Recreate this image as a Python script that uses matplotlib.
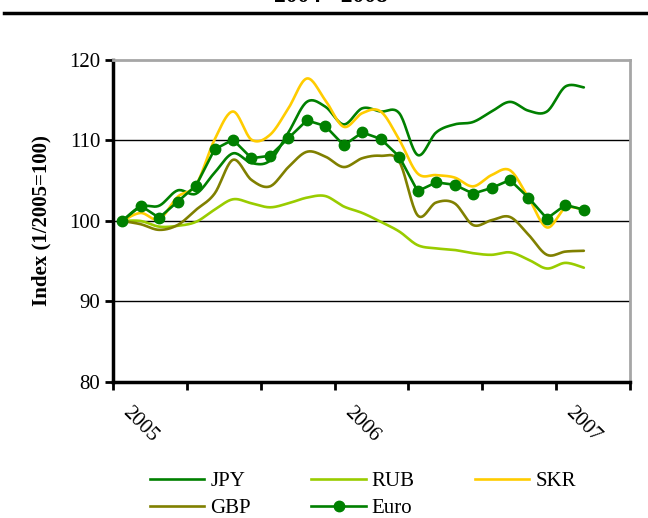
import numpy as np
import matplotlib
matplotlib.use("Agg")
import matplotlib.pyplot as plt
from matplotlib.lines import Line2D
import matplotlib.transforms as mtransforms

plt.rcParams['font.family'] = ['Liberation Serif', 'DejaVu Serif']

# ---- data (monthly, Jan 2005 .. Feb 2007) ----
months = list(range(26))
jpy = [100.0, 101.8, 101.9, 103.8, 103.4, 106.0, 108.4, 107.2, 107.5, 111.0,
       114.8, 114.2, 112.0, 114.0, 113.6, 113.4, 108.2, 111.0, 112.0, 112.3,
       113.6, 114.8, 113.7, 113.6, 116.7, 116.6]
rub = [100.0, 100.0, 99.3, 99.4, 99.9, 101.4, 102.7, 102.2, 101.7, 102.2,
       102.9, 103.1, 101.8, 101.0, 99.9, 98.7, 97.0, 96.6, 96.4, 96.0,
       95.8, 96.1, 95.2, 94.1, 94.8, 94.2]
skr = [100.0, 101.0, 100.2, 103.0, 104.5, 110.1, 113.6, 110.1, 110.7, 114.0,
       117.7, 115.0, 111.7, 113.4, 113.6, 110.1, 105.9, 105.7, 105.4, 104.3,
       105.7, 106.3, 102.9, 99.2, 101.6, 101.4]
gbp = [100.0, 99.6, 98.9, 99.5, 101.4, 103.4, 107.6, 105.1, 104.3, 106.7,
       108.6, 108.0, 106.7, 107.8, 108.1, 107.4, 100.7, 102.3, 102.2, 99.5,
       100.1, 100.5, 98.3, 95.8, 96.2, 96.3]
euro = [100.0, 101.9, 100.4, 102.4, 104.4, 108.9, 110.1, 107.8, 108.1, 110.3,
        112.5, 111.8, 109.4, 111.0, 110.2, 108.0, 103.7, 104.8, 104.5, 103.4,
        104.1, 105.1, 102.9, 100.3, 102.0, 101.4]
year_labels = ["2005", "2006", "2007"]
n_categories = 28


def smooth(xs, ys, n=20):
    P = np.column_stack([np.asarray(xs, float), np.asarray(ys, float)])
    ext = np.vstack([P[0], P, P[-1]])
    out = []
    t = np.linspace(0, 1, n, endpoint=False)[:, None]
    for i in range(len(P) - 1):
        p0, p1, p2, p3 = ext[i], ext[i + 1], ext[i + 2], ext[i + 3]
        c = 0.5 * ((2 * p1) + (-p0 + p2) * t + (2 * p0 - 5 * p1 + 4 * p2 - p3) * t ** 2
                   + (-p0 + 3 * p1 - 3 * p2 + p3) * t ** 3)
        out.append(c)
    out.append(P[-1:])
    arr = np.vstack(out)
    return arr[:, 0], arr[:, 1]


fig = plt.figure(figsize=(6.48, 5.18), dpi=100)
ax = fig.add_axes([113 / 648, 1 - 382 / 518, (630 - 113) / 648, (382 - 60) / 518])

c_jpy = '#008000'
c_rub = '#99CC00'
c_skr = '#FFCC00'
c_gbp = '#808000'
c_euro = '#008000'
lw = 1.9

for vals, col in [(jpy, c_jpy), (rub, c_rub), (skr, c_skr), (gbp, c_gbp)]:
    sx, sy = smooth(months, vals)
    ax.plot(sx, sy, color=col, lw=lw, solid_capstyle='round', zorder=3)
ax.plot(months, euro, color=c_euro, lw=lw, marker='o', markersize=7.5, zorder=4)

ax.set_xlim(-0.5, n_categories - 0.5)
ax.set_ylim(80, 120)
ax.set_yticks([80, 90, 100, 110, 120])
ax.set_yticklabels(['80', '90', '100', '110', '120'], fontsize=15)
for v in [90, 100, 110]:
    ax.axhline(v, color='black', lw=1.0, zorder=1)

ax.set_xticks(np.arange(-0.5, n_categories, 4))
ax.set_xticklabels([])
ax.tick_params(axis='x', direction='out', length=6, width=2)
ax.tick_params(axis='y', direction='out', length=6, width=2, pad=3)

for s in ['top', 'right']:
    ax.spines[s].set_color('#A6A6A6')
    ax.spines[s].set_linewidth(2)
for s in ['left', 'bottom']:
    ax.spines[s].set_color('black')
    ax.spines[s].set_linewidth(2.5)

trans = mtransforms.blended_transform_factory(ax.transData, ax.transAxes)
for k, lab in enumerate(year_labels):
    xpos = -0.5 + 12 * k
    off = mtransforms.ScaledTranslation(19 / 100, -21 / 100, fig.dpi_scale_trans)
    ax.text(xpos, 0, lab, transform=trans + off, rotation=-45, rotation_mode='anchor',
            ha='left', va='top', fontsize=15)

ax.set_ylabel('Index (1/2005=100)', fontsize=15, fontweight='bold', labelpad=13)

# cut-off title and rule at the top
fig.text(0.51, 1 - 7 / 518, '2004 - 2008', ha='center', va='bottom', fontsize=17,
         fontweight='bold')
fig.add_artist(Line2D([4 / 648, 1.0], [1 - 13 / 518, 1 - 13 / 518], color='black', lw=2.5))

handles = [
    Line2D([], [], color=c_jpy, lw=lw),
    Line2D([], [], color=c_gbp, lw=lw),
    Line2D([], [], color=c_rub, lw=lw),
    Line2D([], [], color=c_euro, lw=lw, marker='o', markersize=7.5),
    Line2D([], [], color=c_skr, lw=lw),
]
labels = ['JPY', 'GBP', 'RUB', 'Euro', 'SKR']
fig.legend(handles, labels, ncol=3, loc='center left',
           bbox_to_anchor=(150 / 648, 1 - 495 / 518),
           frameon=False, fontsize=15, handlelength=2.6, handletextpad=0.3,
           columnspacing=2.9, labelspacing=0.35, borderpad=0.0, borderaxespad=0.0)

fig.savefig('out.png', dpi=100)
